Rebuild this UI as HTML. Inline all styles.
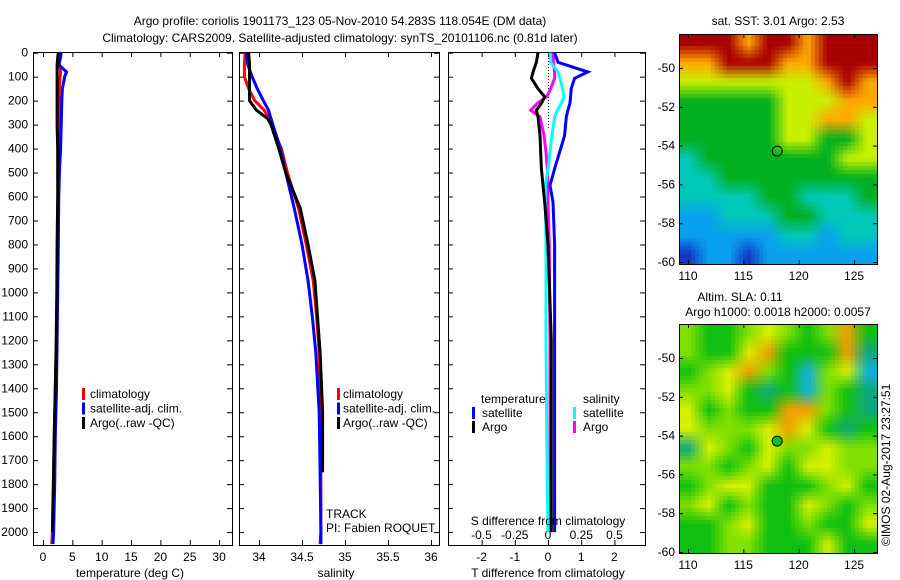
<!DOCTYPE html>
<html><head><meta charset="utf-8">
<style>
body{margin:0;background:#fff;}
svg{display:block;font-family:"Liberation Sans",sans-serif;font-size:12px;}
canvas{position:absolute;}
</style></head>
<body>
<div style="position:relative;width:900px;height:580px;">
<canvas id="sst" width="198" height="230" style="left:679px;top:34px;width:198px;height:230px;"></canvas>
<canvas id="sla" width="198" height="229" style="left:679px;top:324px;width:198px;height:229px;"></canvas>
<svg id="fig" width="900" height="580" style="position:absolute;left:0;top:0;"></svg>
</div>
<script>
// ---------- data ----------
const tDepths = [0,20,50,80,100,150,200,300,400,500,600,800,1000,1200,1400,1600,1800,2000,2050];
const tSat  = [3.1,3.0,2.7,4.0,3.7,3.3,3.2,3.1,3.0,2.8,2.7,2.6,2.5,2.4,2.3,2.1,2.0,1.8,1.7];
const tClim = [2.8,2.8,2.8,3.0,2.9,2.8,2.8,2.75,2.7,2.6,2.6,2.5,2.4,2.3,2.1,1.9,1.8,1.6,1.5];
const tArgo = [2.6,2.5,2.4,2.4,2.4,2.4,2.4,2.4,2.5,2.5,2.5,2.4,2.35,2.25,2.1,1.9,1.75,1.6,null];
const sDepths = [0,50,100,150,200,240,275,300,400,500,650,800,950,1100,1250,1500,1750,2000,2050];
const sSat  = [33.85,33.87,33.92,33.98,34.05,34.11,34.14,34.16,34.25,34.31,34.41,34.50,34.57,34.62,34.66,34.70,34.71,34.72,34.72];
const sClim = [33.84,33.83,33.83,33.88,33.95,34.06,34.12,34.14,34.26,34.33,34.46,34.55,34.63,34.67,34.70,34.71,34.72,34.72,34.71];
const sArgo = [33.88,33.89,33.89,33.89,33.89,33.97,34.10,34.14,34.23,34.31,34.48,34.57,34.65,34.68,34.71,34.74,34.74,null,null];
const dDepths = [0,40,80,107,150,184,211,240,268,345,415,484,554,623,800,1200,1600,2000];
const dTSat  = [0.2,0.3,1.2,0.8,0.7,0.68,0.66,0.6,0.55,0.5,0.35,0.2,0.06,0.15,0.2,0.2,0.2,0.2];
const dTArgo = [-0.3,-0.35,-0.45,-0.5,-0.3,-0.1,-0.2,-0.35,-0.3,-0.24,-0.22,-0.2,-0.15,-0.1,0.0,0.1,0.1,0.1];
const dSArgo = [0.04,0.04,0.05,0.05,0.02,-0.01,-0.08,-0.13,-0.06,-0.03,-0.015,-0.005,0.0,0.0,0.01,0.015,0.015,0.02];
const dSSat  = [0.015,0.02,0.075,0.09,0.11,0.12,0.1,0.07,0.05,0.03,0.015,0.0,-0.02,-0.02,-0.015,-0.015,-0.01,0.0];
const depthTicks = [0,100,200,300,400,500,600,700,800,900,1000,1100,1200,1300,1400,1500,1600,1700,1800,1900,2000];
const tTicks = [0,5,10,15,20,25,30];
const sTicks = [34,34.5,35,35.5,36];
const sTickLabels = ["34","34.5","35","35.5","36"];
const dTTicks = [-2,-1,0,1,2];
const dSTicks = [-0.5,-0.25,0,0.25,0.5];
const latTicks = [-50,-52,-54,-56,-58,-60];
const lonTicks = [110,115,120,125];
const argoLon = 118.054, argoLat = -54.283;
const sstPalette = ["#1038c0","#0aa0f0","#00c8b8","#00b020","#c8f000","#ffa800","#a80000"];
const sstGrid = [
[6,6,6,5,6,6,5,6,6,6],[5,5,6,6,6,5,5,6,6,6],[4,4,4,4,4,4,4,5,6,5],[3,3,3,3,3,4,4,4,5,5],
[3,3,3,3,3,4,4,5,5,4],[3,3,3,3,3,4,4,3,3,4],[2,3,3,3,3,3,3,3,4,4],[2,2,3,3,3,3,3,3,3,3],
[2,2,2,2,3,3,2,2,2,3],[1,1,2,2,2,3,3,2,2,2],[1,1,1,1,1,2,2,1,2,2],[0,1,1,0,1,1,1,1,1,1]];
const slaPalette = ["#10b0e0","#10a880","#10c010","#80e000","#d8f000","#f0a000"];
const slaGrid = [
[3,2,2,3,4,3,2,3,5,2],[3,2,2,4,5,2,2,2,5,1],[2,3,4,5,3,2,0,3,4,0],[3,3,4,2,1,2,0,3,2,1],
[4,2,3,2,2,5,5,3,2,1],[4,3,3,3,4,5,4,2,1,2],[1,4,3,2,4,3,3,4,3,3],[3,3,2,3,4,2,4,4,3,3],
[2,3,4,4,2,2,2,3,4,2],[3,4,2,3,2,2,4,3,2,3],[2,2,3,4,2,2,3,2,2,4],[2,2,3,3,2,2,2,4,2,2]];

// ---------- helpers ----------
const NS="http://www.w3.org/2000/svg";
const svg=document.getElementById('fig');
function el(tag,attrs,parent){const e=document.createElementNS(NS,tag);for(const k in attrs)e.setAttribute(k,attrs[k]);(parent||svg).appendChild(e);return e;}
function txt(x,y,s,anchor,parent){const t=el('text',{x:x,y:y,'text-anchor':anchor||'start',fill:'#000'},parent);t.textContent=s;return t;}
const yD = d => 52.7 + d*0.2397;
const xT = v => 43 + v*5.87;
const xS = v => 259 + (v-34)*86;
const xDT = v => 548 + v*33.2;
const xDS = v => 548 + v*133;
function poly(depths,vals,xf,color,name){
  const pts=[];for(let i=0;i<depths.length;i++){if(vals[i]==null)continue;pts.push(xf(vals[i]).toFixed(1)+','+yD(depths[i]).toFixed(1));}
  const p=el('polyline',{points:pts.join(' '),fill:'none',stroke:color,'stroke-width':3});
  
  
}
function frame(x0,x1,y0,y1,name){
  const r=el('rect',{x:x0+0.5,y:y0+0.5,width:x1-x0,height:y1-y0,fill:'none',stroke:'#000','stroke-width':1});
  
  
}
function vtick(x,y0,y1){el('line',{x1:x+0.5,x2:x+0.5,y1:y0,y2:y1,stroke:'#000'});}
function htick(y,x0,x1){el('line',{x1:x0,x2:x1,y1:y+0.5,y2:y+0.5,stroke:'#000'});}

let t1=txt(340,25,"Argo profile: coriolis 1901173_123 05-Nov-2010 54.283S 118.054E (DM data)",'middle');


let t2=txt(340,42,"Climatology: CARS2009. Satellite-adjusted climatology: synTS_20101106.nc (0.81d later)",'middle');



// ---------- panel 1 ----------
frame(33,232,52,545,'temperature-panel');
depthTicks.forEach(d=>{htick(yD(d),33,38);htick(yD(d),227,232);
  const l=txt(28,yD(d)+4,String(d),'end');
  
  });
tTicks.forEach(v=>{vtick(xT(v),52,57);vtick(xT(v),540,545);
  const l=txt(xT(v),561,String(v),'middle');
  
  });
let xl1=txt(130,577,"temperature (deg C)",'middle');


poly(tDepths,tClim,xT,'#ff0000','temp-climatology-line');
poly(tDepths,tSat,xT,'#0000ff','temp-satellite-line');
poly(tDepths,tArgo,xT,'#000000','temp-argo-line');

function legend3(bx,tx,items,prefix){
  items.forEach((it,i)=>{const y=398+i*14.5;
    const r=el('rect',{x:bx,y:y-10,width:3,height:12,fill:it[1]});
    
    
    const l=txt(tx,y,it[0]);
    
    });
}
legend3(82,90,[["climatology","#ff0000"],["satellite-adj. clim.","#0000ff"],["Argo(..raw -QC)","#000"]],'temperature-legend');

// ---------- panel 2 ----------
frame(239,439,52,545,'salinity-panel');
depthTicks.forEach(d=>{htick(yD(d),239,244);htick(yD(d),434,439);});
sTicks.forEach((v,i)=>{vtick(xS(v),52,57);vtick(xS(v),540,545);
  const l=txt(xS(v),561,sTickLabels[i],'middle');
  
  });
let xl2=txt(336,577,"salinity",'middle');


poly(sDepths,sClim,xS,'#ff0000','sal-climatology-line');
poly(sDepths,sSat,xS,'#0000ff','sal-satellite-line');
poly(sDepths,sArgo,xS,'#000000','sal-argo-line');
legend3(337,343,[["climatology","#ff0000"],["satellite-adj. clim.","#0000ff"],["Argo(..raw -QC)","#000"]],'salinity-legend');
let tr=txt(326,518,"TRACK");
let pi=txt(326,532,"PI: Fabien ROQUET");

// ---------- panel 3 ----------
frame(448,645,52,545,'difference-panel');
depthTicks.forEach(d=>{htick(yD(d),448,453);htick(yD(d),640,645);});
dTTicks.forEach(v=>{vtick(xDT(v),52,57);vtick(xDT(v),540,545);
  const l=txt(xDT(v),561,String(v),'middle');
  
  });
dSTicks.forEach(v=>{const l=txt(xDS(v),539,String(v),'middle');
  
  });
el('line',{x1:548.5,x2:548.5,y1:52,y2:yD(320),stroke:'#000','stroke-dasharray':'1,2'});
poly(dDepths,dSArgo,xDS,'#ff00ff','sdiff-argo-line');
poly(dDepths,dSSat,xDS,'#00ffff','sdiff-satellite-line');
poly(dDepths,dTArgo,xDT,'#000000','tdiff-argo-line');
poly(dDepths,dTSat,xDT,'#0000ff','tdiff-satellite-line');
let sdt=txt(548,525,"S difference from climatology",'middle');

let tdt=txt(548,577,"T difference from climatology",'middle');

let lt=txt(481,403,"temperature");
let ls=txt(583,403,"salinity");
[["satellite","#0000ff",472,482,417],["Argo","#000",472,482,431],["satellite","#00ffff",573,583,417],["Argo","#ff00ff",573,583,431]].forEach(it=>{
  const r=el('rect',{x:it[2],y:it[4]-10,width:3,height:12,fill:it[1]});
  
  
  const l=txt(it[3],it[4],it[0]);
  
  });

// ---------- maps (manual bilinear, slightly pixelated) ----------
function hex(c){return [parseInt(c.substr(1,2),16),parseInt(c.substr(3,2),16),parseInt(c.substr(5,2),16)];}
function drawMap(id,grid,pal){
  const c=document.getElementById(id),ctx=c.getContext('2d');
  const W=c.width,H=c.height,rows=grid.length,cols=grid[0].length;
  const P=pal.map(hex);
  const img=ctx.createImageData(W,H);
  const px=4;
  for(let y=0;y<H;y++)for(let x=0;x<W;x++){
    const qx=Math.floor(x/px)*px+px/2, qy=Math.floor(y/px)*px+px/2;
    let gx=qx/W*cols-0.5, gy=qy/H*rows-0.5;
    gx=Math.max(0,Math.min(cols-1,gx));gy=Math.max(0,Math.min(rows-1,gy));
    const i0=Math.floor(gx),j0=Math.floor(gy),i1=Math.min(cols-1,i0+1),j1=Math.min(rows-1,j0+1);
    const fx=gx-i0,fy=gy-j0;
    const o=(y*W+x)*4;
    for(let k=0;k<3;k++){
      const a=P[grid[j0][i0]][k]*(1-fx)+P[grid[j0][i1]][k]*fx;
      const b=P[grid[j1][i0]][k]*(1-fx)+P[grid[j1][i1]][k]*fx;
      img.data[o+k]=a*(1-fy)+b*fy;
    }
    img.data[o+3]=255;
  }
  ctx.putImageData(img,0,0);
}
drawMap('sst',sstGrid,sstPalette);
drawMap('sla',slaGrid,slaPalette);
const xLon = v => 688 + (v-110)*11.07;
function mapAxes(y0,y1,latY,name,dotColor){
  frame(679,877,y0,y1,name);
  latTicks.forEach(v=>{const y=latY(v);htick(y,679,683);htick(y,873,877);
    const l=txt(675,y+4,String(v),'end');
    
    });
  lonTicks.forEach(v=>{const x=xLon(v);vtick(x,y0,y0+4);vtick(x,y1-4,y1);
    const l=txt(x,y1+16,String(v),'middle');
    
    });
  const c=el('circle',{cx:xLon(argoLon),cy:latY(argoLat),r:5,fill:dotColor,stroke:'#000','stroke-width':1});
  
  
}
mapAxes(34,264,v=>68+(-50-v)*19.4,'sst-map-frame','none');
mapAxes(324,553,v=>358+(-50-v)*19.4,'sla-map-frame','#10c010');
let m1=txt(778,25,"sat. SST: 3.01 Argo: 2.53",'middle');
let m2=txt(740,301,"Altim. SLA: 0.11",'middle');
let m3=txt(778,316,"Argo h1000: 0.0018 h2000: 0.0057",'middle');
let cp=txt(0,0,"\u00A9IMOS 02-Aug-2017 23:27:51",'start');
cp.setAttribute('transform','translate(890,546) rotate(-90)');

</script>
</body></html>
